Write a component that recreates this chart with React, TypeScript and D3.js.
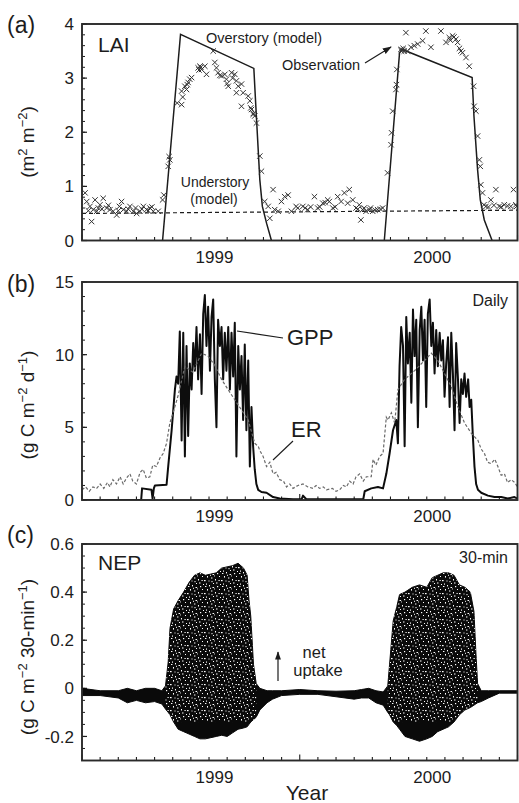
import React from 'react';
import * as d3 from 'd3';

// months counted from the left edge of the record (two years, monthly ticks)
const yearLabels = [
  { label: '1999', month: 7.3 },
  { label: '2000', month: 19.3 },
];

// (a) LAI — overstory model, understory model, observations [month, LAI]
const overstory1999 = [[4.44, 0], [5.43, 3.81], [9.47, 3.18], [9.58, 2.48], [9.8, 1.12], [9.94, 0.63], [10.17, 0.32], [10.44, 0]];
const overstory2000 = [[16.66, 0], [17.5, 3.47], [17.65, 3.53], [21.5, 3.01], [21.6, 2.3], [21.8, 1.31], [21.95, 0.75], [22.17, 0.38], [22.6, 0]];
const understory = [[0, 0.5], [8, 0.52], [16, 0.54], [24, 0.56]];
const laiObs = [
  [0.17, 0.88], [0.26, 0.72], [0.35, 0.55], [0.44, 0.63], [0.53, 0.35], [0.62, 0.57], [0.72, 0.75], [0.81, 0.54], [0.9, 0.6],
  [0.99, 0.66], [1.1, 0.58], [1.17, 0.78], [1.36, 0.6], [1.45, 0.65], [1.54, 0.57], [1.72, 0.54], [1.91, 0.47], [2.0, 0.55],
  [2.06, 0.63], [2.18, 0.72], [2.28, 0.57], [2.46, 0.54], [2.55, 0.58], [2.64, 0.63], [2.83, 0.54], [2.95, 0.6], [3.01, 0.5],
  [3.19, 0.54], [3.3, 0.58], [3.38, 0.63], [3.56, 0.57], [3.65, 0.55], [3.74, 0.6], [3.85, 0.62], [3.93, 0.54], [4.2, 0.54],
  [4.44, 0.75], [4.51, 0.84],
  [4.75, 1.37], [4.8, 1.55], [4.84, 1.49],
  [5.25, 2.54], [5.49, 2.51], [5.49, 2.76], [5.55, 2.65], [5.67, 2.85], [5.76, 2.79], [5.8, 2.88], [5.85, 2.92], [5.94, 2.98],
  [6.04, 3.01], [6.4, 3.19], [6.45, 3.15], [6.5, 3.22], [6.55, 3.2], [6.59, 3.16], [6.77, 3.22], [6.86, 3.07],
  [7.23, 3.5], [7.32, 3.29], [7.41, 3.19], [7.5, 3.1], [7.6, 3.05], [7.69, 3.04], [7.87, 3.07], [7.96, 2.98], [8.0, 2.9],
  [8.06, 2.85], [8.24, 3.1], [8.3, 3.0], [8.42, 3.07], [8.51, 2.95], [8.61, 2.85], [8.51, 2.73], [8.79, 2.89], [8.88, 2.73],
  [8.79, 2.48], [9.16, 2.67], [9.25, 2.58], [9.3, 2.45], [9.34, 2.42], [9.43, 2.33], [9.45, 2.35], [9.52, 2.3], [9.61, 2.17],
  [9.8, 1.56], [9.89, 1.28],
  [10.07, 0.72], [10.26, 0.63], [10.35, 0.41], [10.53, 0.94], [10.62, 0.57], [10.81, 0.54], [10.99, 0.72], [11.17, 0.81],
  [11.36, 0.84], [11.54, 0.54], [11.8, 0.63],
  [11.89, 0.6], [12.17, 0.63], [12.3, 0.6], [12.44, 0.57], [12.6, 0.62], [12.81, 0.81], [12.99, 0.6], [13.1, 0.62],
  [13.27, 0.69], [13.4, 0.7], [13.54, 0.75], [13.63, 0.72], [13.82, 0.6], [13.95, 0.62], [14.09, 0.81], [14.28, 0.72],
  [14.46, 0.88], [14.64, 0.69], [14.73, 0.94], [14.92, 0.75], [15.1, 0.6], [15.2, 0.58], [15.28, 0.66], [15.37, 0.38],
  [15.46, 0.57], [15.55, 0.6], [15.65, 0.54], [15.83, 0.57], [15.9, 0.6], [16.02, 0.54], [16.15, 0.56], [16.29, 0.57],
  [16.45, 0.58], [16.57, 0.6],
  [16.84, 1.25], [17.03, 1.77], [17.06, 1.99], [17.12, 2.39], [17.3, 2.79], [17.33, 2.88], [17.35, 3.16],
  [17.57, 3.53], [17.6, 3.5], [17.65, 3.52], [17.7, 3.55], [17.76, 3.5], [17.85, 3.84], [17.94, 3.5], [18.13, 3.57],
  [18.31, 3.6], [18.5, 3.63], [18.77, 3.69], [18.95, 3.87], [19.23, 3.57], [19.78, 3.87], [20.06, 3.66], [20.24, 3.75],
  [20.3, 3.7], [20.42, 3.78], [20.5, 3.76], [20.61, 3.72], [20.7, 3.66], [20.8, 3.55], [20.88, 3.5], [20.97, 3.47],
  [21.16, 3.38], [21.34, 3.22],
  [21.58, 2.85], [21.61, 2.48], [21.71, 2.39], [21.8, 1.93], [21.9, 1.49], [21.95, 1.37],
  [21.98, 1.03], [22.07, 0.88], [22.15, 0.66], [22.26, 0.63], [22.4, 0.62], [22.53, 0.75], [22.7, 0.65], [22.81, 0.94],
  [22.99, 0.63], [23.1, 0.62], [23.27, 0.66], [23.45, 0.64], [23.63, 0.63], [23.78, 0.94], [23.91, 0.66], [23.95, 0.63],
];

// (b) daily GPP and ER [month, g C m-2 d-1]
const gpp = [
  [0, 0], [3.26, 0], [3.31, 0.8], [3.83, 0.7], [3.89, 0.1], [3.96, 0.8], [4.02, 1.0], [4.66, 1.05], [4.75, 2.3], [4.94, 4.8],
  [5.12, 7.6], [5.21, 8.5], [5.3, 8.0], [5.39, 11.6], [5.49, 4.1], [5.58, 11.5], [5.67, 3.0], [5.76, 10.6], [5.85, 4.4],
  [5.94, 9.4], [6.04, 7.6], [6.13, 10.8], [6.22, 8.9], [6.31, 11.9], [6.4, 8.3], [6.5, 11.4], [6.59, 7.3], [6.68, 12.8],
  [6.77, 14.1], [6.86, 10.6], [6.95, 13.3], [7.05, 8.9], [7.14, 12.6], [7.23, 13.8], [7.32, 8.3], [7.41, 5.0], [7.5, 12.4],
  [7.6, 10.6], [7.69, 11.9], [7.78, 8.3], [7.87, 11.5], [7.96, 8.9], [8.06, 11.9], [8.15, 7.6], [8.24, 11.5], [8.33, 8.5],
  [8.42, 12.2], [8.51, 3.0], [8.61, 10.6], [8.7, 7.6], [8.79, 9.9], [8.88, 5.5], [8.97, 10.7], [9.06, 4.8], [9.16, 9.6],
  [9.25, 2.3], [9.34, 6.4], [9.43, 3.7], [9.52, 2.1], [9.61, 1.1], [9.71, 0.7], [9.89, 0.55], [10.17, 0.5], [10.53, 0.2],
  [10.9, 0.1], [11.63, 0.05], [12.1, 0.05], [12.18, 0.3], [12.36, 0.05], [15.5, 0.05], [15.58, 0.6], [15.94, 0.8],
  [16.31, 0.9], [16.59, 0.8], [16.77, 1.8], [16.95, 3.2], [17.14, 4.8], [17.32, 5.5], [17.41, 3.9], [17.5, 9.2], [17.59, 11.9],
  [17.69, 10.6], [17.78, 3.7], [17.87, 12.6], [17.96, 9.4], [18.06, 11.5], [18.15, 6.7], [18.24, 13.1], [18.33, 9.9],
  [18.42, 12.4], [18.51, 5.0], [18.61, 11.7], [18.7, 13.3], [18.79, 9.6], [18.88, 12.4], [18.97, 6.4], [19.06, 12.8],
  [19.16, 13.8], [19.25, 10.6], [19.34, 12.2], [19.43, 8.7], [19.52, 11.7], [19.61, 9.2], [19.71, 11.5], [19.8, 9.6],
  [19.89, 11.0], [19.98, 7.1], [20.07, 9.4], [20.17, 11.2], [20.26, 6.4], [20.35, 11.5], [20.44, 8.7], [20.53, 4.8],
  [20.62, 10.8], [20.72, 8.3], [20.81, 5.3], [20.9, 8.3], [20.99, 7.3], [21.08, 8.7], [21.17, 7.1], [21.28, 8.3], [21.36, 6.4],
  [21.45, 6.9], [21.54, 4.4], [21.63, 2.3], [21.72, 1.1], [21.82, 0.7], [22.0, 0.5], [22.37, 0.3], [22.73, 0.2], [23.1, 0.2],
  [23.46, 0.1], [23.83, 0.2], [24, 0.1],
];
const er = [
  [0, 0.7], [0.2, 0.9], [0.4, 0.6], [0.6, 0.9], [0.81, 0.8], [1.0, 1.1], [1.2, 0.8], [1.4, 1.2], [1.54, 0.9], [1.7, 1.4],
  [1.9, 1.1], [2.1, 1.6], [2.27, 1.1], [2.45, 1.5], [2.64, 1.8], [2.8, 1.3], [3.0, 1.1], [3.2, 1.9], [3.37, 2.1], [3.55, 1.5],
  [3.74, 1.6], [3.9, 2.4], [4.1, 2.3], [4.3, 2.9], [4.47, 3.2], [4.66, 3.9], [4.84, 5.3], [5.02, 6.0],
  [5.3, 7.2], [5.67, 9.2], [6.1, 8.8], [6.59, 10.1], [6.95, 9.9], [7.3, 9.3], [7.69, 8.3], [8.05, 7.6], [8.42, 6.9], [8.79, 6.2],
  [9.16, 5.5], [9.52, 3.9], [9.71, 3.7], [9.8, 3.4], [9.98, 3.0], [10.17, 2.3], [10.35, 2.6], [10.53, 1.8], [10.7, 1.9],
  [10.9, 1.4], [11.1, 1.3], [11.27, 0.9], [11.45, 1.1], [11.63, 0.8], [11.9, 1.0], [12.18, 1.1], [12.45, 0.9], [12.73, 0.8],
  [12.9, 1.0], [13.1, 0.8], [13.3, 0.9], [13.47, 0.7], [13.8, 0.8], [14.0, 0.6], [14.2, 0.7], [14.4, 1.0], [14.57, 0.9],
  [14.75, 1.3], [14.94, 1.1], [15.1, 1.6], [15.3, 1.8], [15.5, 1.3], [15.67, 1.6], [15.94, 1.6], [16.04, 2.8], [16.2, 2.4],
  [16.4, 3.0], [16.59, 3.2], [16.77, 5.7], [16.86, 5.5], [17.05, 6.0], [17.23, 5.3],
  [17.41, 7.6], [17.78, 8.3], [18.33, 8.9], [18.88, 9.6], [19.25, 10.1], [19.61, 9.6], [19.98, 8.7], [20.35, 7.8],
  [20.72, 6.4], [21.08, 5.3], [21.45, 4.6], [21.82, 4.1], [22.0, 3.5], [22.18, 3.2], [22.35, 2.6], [22.55, 2.5], [22.75, 2.8],
  [22.92, 2.3], [23.1, 1.7], [23.28, 1.8], [23.45, 1.2], [23.65, 1.4], [23.85, 1.2], [24, 0.9],
];

// (c) 30-min NEP envelope
const nepMonths = [
  0, 1.0, 2.0, 2.5, 3.0, 3.5, 4.0, 4.4, 4.6, 4.75, 4.85, 5.05, 5.3, 5.6, 5.9, 6.2, 6.5, 6.8, 7.1, 7.4, 7.7, 8.0, 8.3, 8.6,
  8.9, 9.1, 9.2, 9.3, 9.45, 9.6, 9.8, 10.2, 10.5, 11, 12, 13, 14, 15, 15.4, 15.8, 16.2, 16.6, 16.85, 16.95, 17.05, 17.15,
  17.35, 17.5, 17.8, 18.2, 18.6, 19.0, 19.3, 19.6, 19.9, 20.2, 20.5, 20.8, 21.1, 21.4, 21.6, 21.7, 21.8, 22.0, 22.4, 23.0, 24,
];
const nepUpper = [
  0.0, -0.01, -0.01, 0.0, -0.01, 0.0, 0.0, -0.01, 0.01, 0.11, 0.25, 0.33, 0.365, 0.4, 0.44, 0.47, 0.48, 0.47, 0.475, 0.48,
  0.5, 0.505, 0.51, 0.52, 0.5, 0.47, 0.37, 0.3, 0.1, 0.02, 0.0, -0.01, -0.01, -0.01, -0.005, -0.01, -0.012, -0.01, -0.005,
  0.0, -0.01, -0.015, 0.01, 0.1, 0.19, 0.28, 0.34, 0.39, 0.4, 0.42, 0.43, 0.42, 0.46, 0.47, 0.48, 0.48, 0.47, 0.43, 0.42,
  0.4, 0.32, 0.16, 0.02, -0.01, -0.01, -0.01, -0.01,
];
const nepLower = [
  -0.03, -0.03, -0.04, -0.06, -0.05, -0.06, -0.055, -0.065, -0.086, -0.1, -0.11, -0.14, -0.17, -0.18, -0.19, -0.2, -0.21,
  -0.21, -0.205, -0.2, -0.195, -0.2, -0.185, -0.17, -0.165, -0.16, -0.15, -0.14, -0.13, -0.12, -0.09, -0.06, -0.045,
  -0.03, -0.025, -0.025, -0.035, -0.045, -0.04, -0.04, -0.06, -0.07, -0.1, -0.11, -0.125, -0.14, -0.155, -0.17, -0.2,
  -0.21, -0.22, -0.21, -0.2, -0.18, -0.17, -0.16, -0.14, -0.11, -0.09, -0.08, -0.07, -0.065, -0.06, -0.055, -0.04, -0.02, -0.02,
];
// growing seasons in which the cloud is speckled (daytime uptake mixed with night release)
const nepSeasons = [[4.6, 9.6], [16.85, 21.8]];

const W = 519;
const H = 803;
const left = 82;
const right = 517.5;
const FONT = "'Liberation Sans', Arial, Helvetica, sans-serif";
const INK = '#1c1c1c';

const x = d3.scaleLinear().domain([0, 24]).range([left, right]);
const yA = d3.scaleLinear().domain([0, 4]).range([240.5, 24]);
const yB = d3.scaleLinear().domain([0, 15]).range([500, 282]);
const yC = d3.scaleLinear().domain([-0.3, 0.6]).range([760.5, 544]);

// white flecks of the scatter cloud, one tile of the fill pattern
const specks = [
  [1, 1, 1.4, 1], [5, 0, 1, 1.4], [8.5, 2, 1.6, 1], [3, 4, 1, 1.6], [7, 5.5, 1.4, 1], [0, 8, 1.6, 1.2], [4.5, 8.5, 1, 1],
  [11, 7, 1, 1.5], [6, 2.8, 1, 1], [13, 1, 1.2, 1.2], [15, 4, 1, 1], [12, 10.5, 1.5, 1], [2, 11.5, 1, 1.2], [9, 11, 1, 1],
  [14.5, 8, 1.2, 1], [10, 3.5, 0.9, 0.9], [16, 12, 1, 1], [7.5, 9, 1, 1.2],
];

function Axes({ y, major, minorCount, fmt, id }) {
  const [y0, y1] = y.range();
  const minor = y.ticks(minorCount);
  return (
    <g stroke={INK} fill="none">
      <clipPath id={id}>
        <rect x={left} y={y1} width={right - left} height={y0 - y1} />
      </clipPath>
      {minor.map((v) => (
        <line key={'m' + v} x1={left} x2={left + 3} y1={y(v)} y2={y(v)} strokeWidth={1} />
      ))}
      {major.map((v) => (
        <line key={'M' + v} x1={left} x2={left + 5} y1={y(v)} y2={y(v)} strokeWidth={1.2} />
      ))}
      {major.map((v) => (
        <text key={'t' + v} x={74} y={y(v)} dy="0.36em" textAnchor="end" stroke="none" fill={INK} fontSize={17}>
          {fmt(v)}
        </text>
      ))}
      {x.ticks(24).map((m) => (
        <line key={'x' + m} x1={x(m)} x2={x(m)} y1={y0} y2={y0 - (m % 12 === 0 ? 6 : 3.5)} strokeWidth={1.1} />
      ))}
      {yearLabels.map((d) => (
        <text key={d.label} x={x(d.month)} y={y0 + 22} textAnchor="middle" stroke="none" fill={INK} fontSize={17}>
          {d.label}
        </text>
      ))}
    </g>
  );
}

function Frame({ y }) {
  const [y0, y1] = y.range();
  return <rect x={left} y={y1} width={right - left} height={y0 - y1} fill="none" stroke="#2a2a2a" strokeWidth={1.9} />;
}

export default function App() {
  const lineA = d3.line().x((d) => x(d[0])).y((d) => yA(d[1]));
  const lineB = d3.line().x((d) => x(d[0])).y((d) => yB(d[1]));
  const nepArea = d3
    .area()
    .x((i) => x(nepMonths[i]))
    .y0((i) => yC(nepLower[i]))
    .y1((i) => yC(nepUpper[i]));
  const idx = nepMonths.map((_, i) => i);
  const cross = 'M-2.7,-2.7L2.7,2.7M-2.7,2.7L2.7,-2.7';

  return (
    <div style={{ position: 'absolute', left: 0, top: 0 }}>
      <svg width={W} height={H} fontFamily={FONT} style={{ display: 'block', background: '#fff' }}>
        <defs>
          <marker id="arrow" viewBox="0 0 10 10" refX="9" refY="5" markerWidth="7" markerHeight="7" orient="auto">
            <path d="M0,1.5 L10,5 L0,8.5 z" fill={INK} />
          </marker>
          <pattern id="speck" width="17" height="13" patternUnits="userSpaceOnUse">
            {specks.map((s, i) => (
              <rect key={i} x={s[0]} y={s[1]} width={s[2]} height={s[3]} fill="#fff" />
            ))}
          </pattern>
          <clipPath id="nepClip">
            <path d={nepArea(idx)} />
          </clipPath>
        </defs>

        {/* ---------- (a) LAI ---------- */}
        <Axes y={yA} major={[0, 1, 2, 3, 4]} minorCount={20} fmt={(v) => String(v)} id="clipA" />
        <g clipPath="url(#clipA)" fill="none">
          <path d={lineA(understory)} stroke={INK} strokeWidth={1.2} strokeDasharray="4,3" />
          <path d={lineA(overstory1999)} stroke={INK} strokeWidth={1.5} />
          <path d={lineA(overstory2000)} stroke={INK} strokeWidth={1.5} />
          {laiObs.map((d, i) => (
            <path key={i} d={cross} transform={`translate(${x(d[0])},${yA(d[1])})`} stroke="#333" strokeWidth={1} />
          ))}
        </g>
        <Frame y={yA} />
        <text x={7} y={33} fontSize={23} fill={INK}>(a)</text>
        <text x={98} y={52} fontSize={21} fill={INK}>LAI</text>
        <text x={206} y={43} fontSize={14.5} fill={INK}>Overstory (model)</text>
        <text x={282} y={70} fontSize={14.5} fill={INK}>Observation</text>
        <line x1={365} y1={63} x2={391} y2={47} stroke={INK} strokeWidth={1.3} markerEnd="url(#arrow)" />
        <text x={215} y={187} fontSize={14} fill={INK} textAnchor="middle">Understory</text>
        <text x={214} y={204} fontSize={14} fill={INK} textAnchor="middle">(model)</text>
        <text transform="translate(34,142) rotate(-90)" fontSize={19} fill={INK} textAnchor="middle">
          (m<tspan dy="-7" fontSize={13}>2</tspan><tspan dy="7"> m</tspan><tspan dy="-7" fontSize={13}>−2</tspan><tspan dy="7">)</tspan>
        </text>

        {/* ---------- (b) GPP / ER ---------- */}
        <Axes y={yB} major={[0, 5, 10, 15]} minorCount={15} fmt={(v) => String(v)} id="clipB" />
        <g clipPath="url(#clipB)" fill="none">
          <path d={lineB(gpp)} stroke="#0d0d0d" strokeWidth={2} strokeLinejoin="round" />
          <path d={lineB(er)} stroke="#6a6a6a" strokeWidth={1.2} strokeDasharray="3,2" />
        </g>
        <Frame y={yB} />
        <text x={7} y={292} fontSize={23} fill={INK}>(b)</text>
        <text x={508} y={306} fontSize={16} fill={INK} textAnchor="end">Daily</text>
        <text x={287} y={345} fontSize={22} fill={INK}>GPP</text>
        <line x1={237} y1={331} x2={283} y2={338} stroke={INK} strokeWidth={1.1} />
        <text x={291} y={437} fontSize={22} fill={INK}>ER</text>
        <line x1={273} y1={460} x2={293} y2={441} stroke={INK} strokeWidth={1.1} />
        <text transform="translate(34,405) rotate(-90)" fontSize={19} fill={INK} textAnchor="middle">
          (g C m<tspan dy="-7" fontSize={13}>−2</tspan><tspan dy="7"> d</tspan><tspan dy="-7" fontSize={13}>−1</tspan><tspan dy="7">)</tspan>
        </text>

        {/* ---------- (c) NEP ---------- */}
        <Axes
          y={yC}
          major={[-0.2, 0, 0.2, 0.4, 0.6]}
          minorCount={18}
          fmt={(v) => (v === 0 ? '0' : d3.format('.1f')(v).replace('−', '-'))}
          id="clipC"
        />
        <g clipPath="url(#clipC)">
          <path d={nepArea(idx)} fill="#0a0a0a" stroke="#0a0a0a" strokeWidth={1} />
          <g clipPath="url(#nepClip)">
            {nepSeasons.map((s, i) => (
              <rect
                key={i}
                x={x(s[0])}
                width={x(s[1]) - x(s[0])}
                y={yC(0.6)}
                height={yC(-0.14) - yC(0.6)}
                fill="url(#speck)"
              />
            ))}
          </g>
        </g>
        <Frame y={yC} />
        <text x={7} y={543} fontSize={23} fill={INK}>(c)</text>
        <text x={98} y={570} fontSize={21} fill={INK}>NEP</text>
        <text x={508} y={563} fontSize={16} fill={INK} textAnchor="end">30-min</text>
        <text x={314} y={658} fontSize={16.5} fill={INK} textAnchor="middle">net</text>
        <text x={318} y={676} fontSize={16.5} fill={INK} textAnchor="middle">uptake</text>
        <line x1={278} y1={681} x2={278} y2={652} stroke={INK} strokeWidth={1.2} markerEnd="url(#arrow)" />
        <text transform="translate(34,657) rotate(-90)" fontSize={19} fill={INK} textAnchor="middle">
          (g C m<tspan dy="-7" fontSize={13}>−2</tspan><tspan dy="7"> 30-min</tspan><tspan dy="-7" fontSize={13}>−1</tspan><tspan dy="7">)</tspan>
        </text>
        <text x={307} y={800} fontSize={21} fill={INK} textAnchor="middle">Year</text>
      </svg>
    </div>
  );
}
